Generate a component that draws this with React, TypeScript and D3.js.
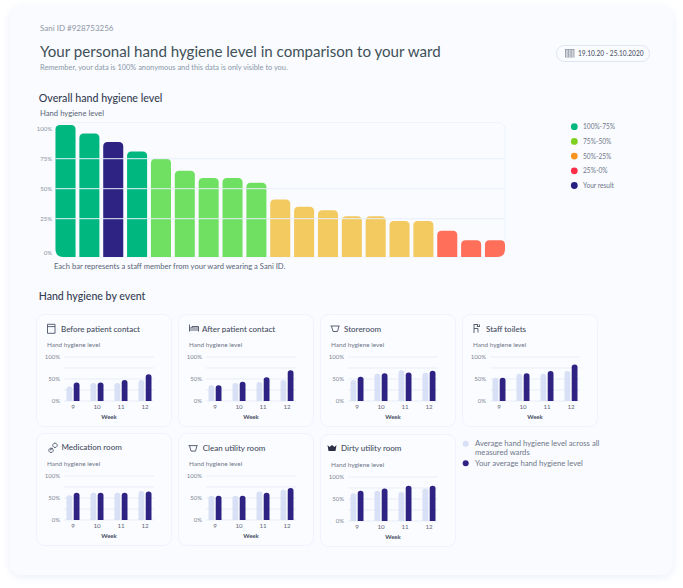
import React, { useEffect, useRef } from "react";
import * as d3 from "d3";

const FONT = "Lato, 'Open Sans', sans-serif";

// overall chart
const overallValues = [103, 96, 89, 81, 75, 65, 59, 59, 55, 41, 35, 32, 27, 27, 23, 23, 15, 7, 7];
const overallBands = ["a", "a", "you", "a", "b", "b", "b", "b", "b", "c", "c", "c", "c", "c", "c", "c", "d", "d", "d"];
const overallTicks = [100, 75, 50, 25, 0];
const barColors: Record<string, string> = { a: "#00b87f", b: "#6fe062", c: "#f3ca5f", d: "#ff6f59", you: "#2e2383" };

const legendLabels = ["100%-75%", "75%-50%", "50%-25%", "25%-0%", "Your result"];
const legendColors = ["#00b77e", "#7fd01f", "#f7941d", "#ff2e48", "#25207f"];

// event charts
const weeks = ["9", "10", "11", "12"];
const eventNames = ["Before patient contact", "After patient contact", "Storeroom", "Staff toilets", "Medication room", "Clean utility room", "Dirty utility room"];
const wardAverages = [
	[33, 41, 41, 48],
	[36, 41, 43, 48],
	[48, 62, 70, 64],
	[53, 62, 62, 68],
	[56, 62, 62, 66],
	[55, 55, 65, 69],
	[63, 69, 66, 74],
];
const yourAverages = [
	[42, 42, 48, 61],
	[36, 44, 54, 70],
	[55, 63, 65, 69],
	[53, 63, 68, 83],
	[62, 62, 62, 65],
	[55, 55, 62, 73],
	[69, 74, 80, 80],
];

// card layout, the cards in the picture are not quite aligned
const cardLeft = [36.5, 178.5, 320.5, 462.5, 36.5, 178.5, 320.5];
const cardTop = [314.5, 314.5, 314.5, 314.5, 433.5, 433.5, 434.5];
const iconLeft = [10, 10.5, 9.5, 9.5, 11.5, 9.5, 6.5];
const titleLeft = [24.5, 23.5, 23.5, 23.5, 25, 24.2, 20.5];
const titleBase = [17.3, 17, 17, 17, 16.6, 17.6, 16.6];

type G = d3.Selection<SVGGElement, unknown, null, undefined>;

function topRounded(x: number, y: number, w: number, bottom: number, r: number, bl = 0, br = 0) {
	return `M${x},${y + r}Q${x},${y} ${x + r},${y}L${x + w - r},${y}Q${x + w},${y} ${x + w},${y + r}L${x + w},${bottom - br}Q${x + w},${bottom} ${x + w - br},${bottom}L${x + bl},${bottom}Q${x},${bottom} ${x},${bottom - bl}Z`;
}

function label(g: G, x: number, y: number, text: string, size: number, fill: string, anchor = "start", weight = 400) {
	g.append("text")
		.attr("x", x)
		.attr("y", y)
		.attr("font-size", size)
		.attr("fill", fill)
		.attr("text-anchor", anchor)
		.attr("font-weight", weight)
		.text(text);
}

function drawIcon(g: G, index: number, x: number, y: number) {
	const icon = g
		.append("g")
		.attr("transform", `translate(${x},${y})`)
		.attr("fill", "none")
		.attr("stroke", "#4b5368")
		.attr("stroke-width", 0.9);
	const paths = [
		["M1,0.5H8.5V9.5H1Z", "M1,2.8H8.5"],
		["M0.5,1V8", "M0.5,6.5H9.5V8", "M0.5,4.5H9.5V6.5", "M3,4.5V3H9.5V4.5"],
		["M0.5,2.5H9.5", "M1.5,2.5L3,8H7.5L9,2.5"],
		["M2,0.5V9.5", "M2,5H6V9", "M2,1H6L5,3H7", "M7.5,1V3.5"],
		["M3,6a2.2,2.2 0 1 0 0.01,0", "M7,1a2.2,2.2 0 1 0 0.01,0", "M2,8L5,6"],
		["M0.5,2.5H9.5", "M1.5,2.5L3,8H7.5L9,2.5"],
		[],
	];
	paths[index].forEach((d) => icon.append("path").attr("d", d));
	if (index === 6) {
		icon.append("path").attr("d", "M0.5,2L2.5,4L5,2L7.5,4L9.5,2L8.5,8H1.5Z").attr("fill", "#2b3046").attr("stroke", "none");
	}
}

function drawOverall(svg: G) {
	const plot = { left: 55.5, right: 505, top: 122.5, bottom: 257 };
	const x = d3.scaleBand<number>().domain(d3.range(overallValues.length)).range([plot.left, plot.right]).paddingInner(0.16);
	const y = d3.scaleLinear().domain([0, 100]).range([248.7, 128.7]);
	const g = svg.append("g");
	g.append("rect")
		.attr("x", plot.left)
		.attr("y", plot.top)
		.attr("width", plot.right - plot.left)
		.attr("height", plot.bottom - plot.top)
		.attr("rx", 7)
		.attr("fill", "none")
		.attr("stroke", "#eef3fd");
	g.selectAll("path.bar")
		.data(overallValues)
		.enter()
		.append("path")
		.attr("class", "bar")
		.attr("fill", (_, i) => barColors[overallBands[i]])
		.attr("d", (d, i) => {
			const last = overallValues.length - 1;
			return topRounded(x(i)!, y(d), x.bandwidth(), plot.bottom, 4.5, i === 0 ? 8 : 0, i === last ? 8 : 0);
		});
	overallTicks
		.filter((t) => t > 0 && t < 100)
		.forEach((t) => {
			g.append("line").attr("x1", plot.left).attr("x2", plot.right).attr("y1", y(t)).attr("y2", y(t)).attr("stroke", "#e8effc").attr("stroke-width", 1);
		});
	overallTicks.forEach((t) => {
		label(g, 52, t === 0 ? 254.8 : y(t) + 2.2, `${t}%`, 6, "#8a919e", "end");
	});
	label(g, 40, 115.7, "Hand hygiene level", 7.7, "#5a6478");
	label(g, 54, 269, "Each bar represents a staff member from your ward wearing a Sani ID.", 7.6, "#5a6478");
}

function drawEvent(svg: G, index: number) {
	const card = svg.append("g").attr("transform", `translate(${cardLeft[index]},${cardTop[index]})`);
	const cardWidth = 135;
	card.append("rect").attr("width", cardWidth).attr("height", 112).attr("rx", 8).attr("fill", "#fbfcff").attr("stroke", "#eef3fd");
	drawIcon(card, index, iconLeft[index], titleBase[index] - 8);
	label(card, titleLeft[index], titleBase[index], eventNames[index], 8, "#444c60", "start", 500);
	label(card, 10.5, 32, "Hand hygiene level", 6.4, "#6f7788");

	const plotLeft = 27.5;
	const plotRight = 117.5;
	const y = d3.scaleLinear().domain([0, 100]).range([86.5, 42.5]);
	const x = d3.scaleBand().domain(weeks).range([plotLeft - 3, plotLeft + 93]);
	const inner = d3.scaleBand().domain(["ward", "you"]).range([0, 13]).paddingInner(0.2);
	const groupOffset = (x.bandwidth() - 13) / 2;

	[0, 25, 50, 75, 100].forEach((t) => {
		card.append("line").attr("x1", plotLeft).attr("x2", plotRight).attr("y1", y(t)).attr("y2", y(t)).attr("stroke", "#e9edf6");
	});
	[0, 50, 100].forEach((t) => {
		label(card, 23.5, y(t) + 2.2, `${t}%`, 6, "#7d8492", "end");
	});
	weeks.forEach((w, i) => {
		const gx = x(w)! + groupOffset;
		card.append("path")
			.attr("fill", "#d7e0f5")
			.attr("d", topRounded(gx + inner("ward")!, y(wardAverages[index][i]), inner.bandwidth(), y(0), 2.8));
		card.append("path")
			.attr("fill", "#2e2383")
			.attr("d", topRounded(gx + inner("you")!, y(yourAverages[index][i]), inner.bandwidth(), y(0), 2.8));
		label(card, x(w)! + x.bandwidth() / 2, 94.5, w, 6.2, "#5f6778", "middle");
	});
	label(card, cardWidth / 2 + 5, 104, "Week", 6, "#444c60", "middle", 700);
}

function draw(ref: SVGSVGElement) {
	const root = d3.select(ref);
	root.selectAll("*").remove();
	const defs = root.append("defs");
	const filter = defs.append("filter").attr("id", "soft").attr("x", "-5%").attr("y", "-5%").attr("width", "110%").attr("height", "110%");
	filter.append("feDropShadow").attr("dx", 0).attr("dy", 2).attr("stdDeviation", 4).attr("flood-color", "#dfe6f5").attr("flood-opacity", 0.7);

	const svg = root.append("g").attr("font-family", FONT) as unknown as G;
	svg.append("rect").attr("x", 10).attr("y", 6).attr("width", 663).attr("height", 569).attr("rx", 12).attr("fill", "#f9fbff").attr("filter", "url(#soft)");

	label(svg, 40, 30.5, "Sani ID #928753256", 8, "#8f96a3");
	label(svg, 40, 57, "Your personal hand hygiene level in comparison to your ward", 15.1, "#3f5058");
	label(svg, 40, 69.5, "Remember, your data is 100% anonymous and this data is only visible to you.", 7.4, "#8a98a6");
	label(svg, 38.7, 102, "Overall hand hygiene level", 10.7, "#353d52", "start", 500);
	label(svg, 38.7, 300, "Hand hygiene by event", 10.6, "#353d52", "start", 500);

	// date pill
	svg.append("rect").attr("x", 556.5).attr("y", 45.5).attr("width", 93).attr("height", 16).attr("rx", 8).attr("fill", "#fbfcff").attr("stroke", "#dfe5f3");
	const cal = svg.append("g").attr("transform", "translate(565.5,49.5)").attr("stroke", "#70798a").attr("stroke-width", 0.6).attr("fill", "none");
	cal.append("rect").attr("width", 8.5).attr("height", 7.5);
	[1.5, 3.5, 5.5].forEach((v) => cal.append("line").attr("x1", 0).attr("x2", 8.5).attr("y1", v).attr("y2", v));
	[2.8, 5.6].forEach((v) => cal.append("line").attr("x1", v).attr("x2", v).attr("y1", 0).attr("y2", 7.5));
	label(svg, 578, 55.8, "19.10.20 - 25.10.2020", 6.6, "#4f586b", "start", 500);

	drawOverall(svg);

	// right legend
	const legendY = d3.scalePoint().domain(legendLabels).range([126.7, 185.5]);
	legendLabels.forEach((name, i) => {
		svg.append("circle").attr("cx", 574.3).attr("cy", legendY(name)!).attr("r", 3.4).attr("fill", legendColors[i]);
		label(svg, 583, legendY(name)! + 2.4, name, 6.6, "#6f7788");
	});

	eventNames.forEach((_, i) => drawEvent(svg, i));

	// bottom legend
	svg.append("circle").attr("cx", 465.7).attr("cy", 443.7).attr("r", 3).attr("fill", "#d7e0f5");
	svg.append("circle").attr("cx", 465.7).attr("cy", 463.3).attr("r", 3).attr("fill", "#2e2383");
	label(svg, 475, 445.5, "Average hand hygiene level across all", 7.7, "#6f7788");
	label(svg, 475, 455, "measured wards", 7.7, "#6f7788");
	label(svg, 475, 466, "Your average hand hygiene level", 7.7, "#6f7788");
}

export default function App() {
	const ref = useRef<SVGSVGElement>(null);
	useEffect(() => {
		if (!ref.current) return;
		draw(ref.current);
	}, []);
	return <svg ref={ref} width={683} height={588} viewBox="0 0 683 588" style={{ position: "absolute", left: 0, top: 0 }} />;
}
